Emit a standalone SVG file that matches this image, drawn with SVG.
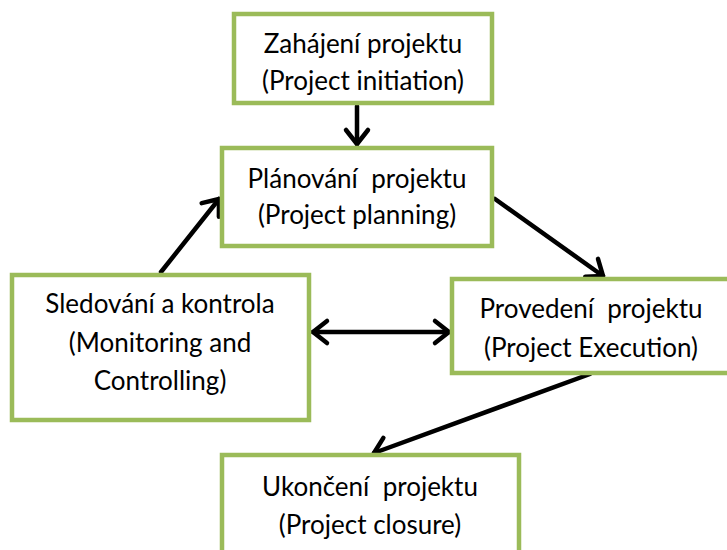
<svg xmlns="http://www.w3.org/2000/svg" width="727" height="550" viewBox="0 0 727 550">
  <style>
    .box { fill: #ffffff; stroke: #9bbb59; stroke-width: 4.5; }
    .label { font-family: "Lato", "Open Sans", "Liberation Sans", sans-serif; font-size: 26px; fill: #000000; text-anchor: middle; }
    .link { fill: none; stroke: #000000; stroke-width: 4.5; stroke-linecap: round; }
  </style>
  <defs>
    <marker id="head" viewBox="-20 -15 26 30" refX="0" refY="0" markerWidth="26" markerHeight="30" markerUnits="userSpaceOnUse" orient="auto-start-reverse">
      <path d="M -14 -11 L 0 0 L -14 11" fill="none" stroke="#000000" stroke-width="4.5" stroke-linecap="round" stroke-linejoin="round"/>
    </marker>
  </defs>
  <rect width="727" height="550" fill="#ffffff"/>

  <g id="connectors">
    <line class="link" x1="357" y1="106" x2="357" y2="144" marker-end="url(#head)"/>
    <line class="link" x1="161" y1="272" x2="219" y2="199" marker-end="url(#head)"/>
    <line class="link" x1="495" y1="199" x2="603" y2="276" marker-end="url(#head)"/>
    <line class="link" x1="313" y1="332" x2="449" y2="332" marker-start="url(#head)" marker-end="url(#head)"/>
    <line class="link" x1="590" y1="374" x2="374" y2="453" marker-end="url(#head)"/>
  </g>

  <g id="initiation">
    <rect class="box" x="234" y="14" width="258" height="89"/>
    <text class="label" x="363" y="53">Zahájení projektu</text>
    <text class="label" x="363" y="90">(Project initiation)</text>
  </g>

  <g id="planning">
    <rect class="box" x="222" y="148" width="270" height="98"/>
    <text class="label" x="357" y="188" xml:space="preserve">Plánování  projektu</text>
    <text class="label" x="357" y="224">(Project planning)</text>
  </g>

  <g id="monitoring">
    <rect class="box" x="12" y="275" width="297" height="145"/>
    <text class="label" x="160" y="313">Sledování a kontrola</text>
    <text class="label" x="160" y="352">(Monitoring and</text>
    <text class="label" x="160" y="390">Controlling)</text>
  </g>

  <g id="execution">
    <rect class="box" x="452" y="279" width="280" height="94"/>
    <text class="label" x="591" y="318" xml:space="preserve">Provedení  projektu</text>
    <text class="label" x="591" y="357">(Project Execution)</text>
  </g>

  <g id="closure">
    <rect class="box" x="222" y="455" width="297" height="98"/>
    <text class="label" x="370" y="496" xml:space="preserve">Ukončení  projektu</text>
    <text class="label" x="370" y="534">(Project closure)</text>
  </g>
</svg>
